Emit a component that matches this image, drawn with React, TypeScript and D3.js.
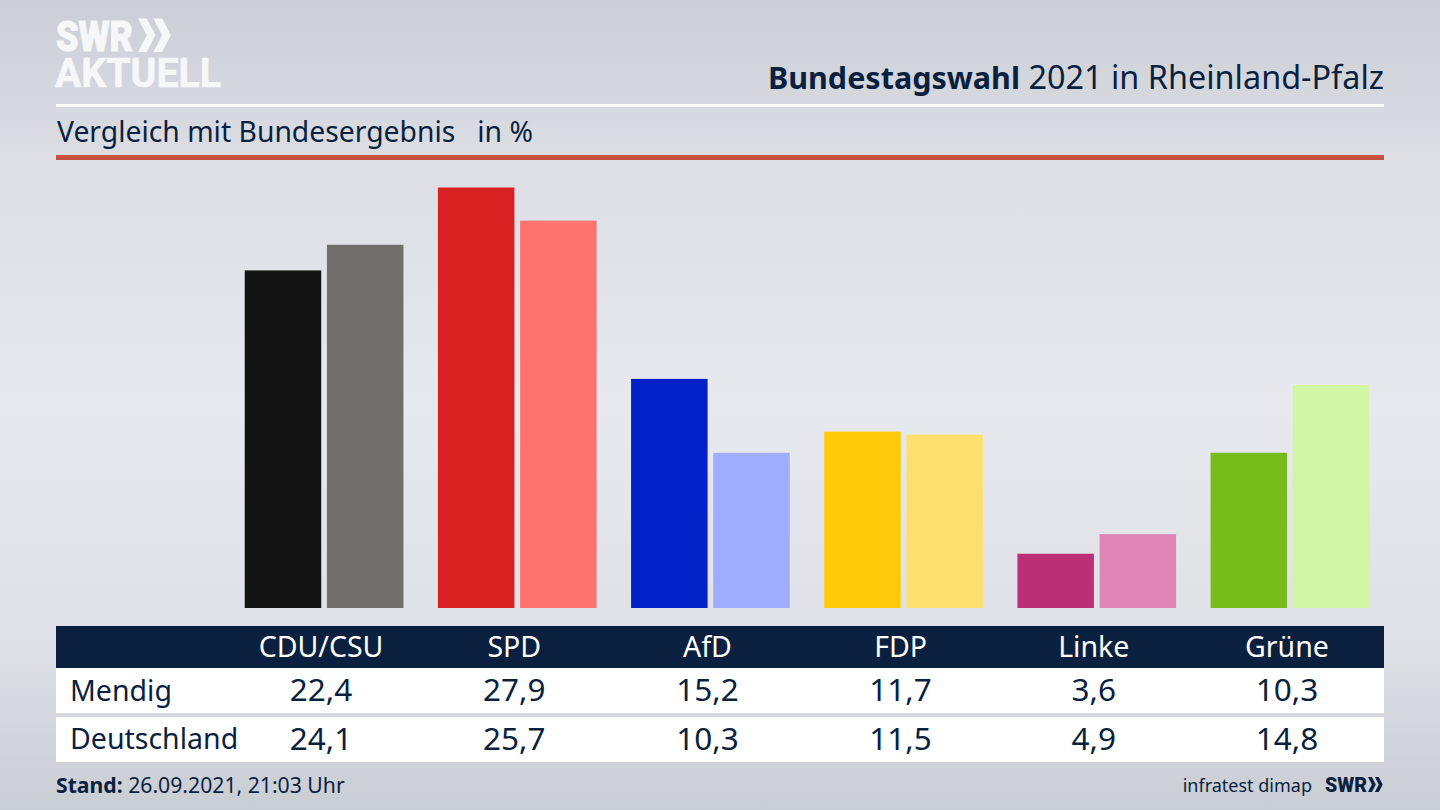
import React from "react";
import * as d3 from "d3";

const parties = ["CDU/CSU", "SPD", "AfD", "FDP", "Linke", "Grüne"];
const regionLabel = "Mendig";
const nationLabel = "Deutschland";
const regionValues = [22.4, 27.9, 15.2, 11.7, 3.6, 10.3];
const nationValues = [24.1, 25.7, 10.3, 11.5, 4.9, 14.8];
const regionColors = ["#141414", "#d7201f", "#0021c7", "#fdcb0a", "#bb2f77", "#78bc1c"];
const nationColors = ["#706f6c", "#fe7370", "#9fadff", "#fddf70", "#e086b6", "#d2f6a6"];

const W = 1440, H = 810;
const navy = "#0b1f3f";
const font = "'Noto Sans', sans-serif";
const fmt = (v: number) => v.toFixed(1).replace(".", ",");

function Chevrons({ x, y, h }: { x: number; y: number; h: number }) {
  const w = h * 0.26, t = h * 0.26;
  const one = (x0: number) =>
    d3.line()([[x0, y], [x0 + t, y], [x0 + t + w, y + h / 2], [x0 + t, y + h], [x0, y + h], [x0 + w, y + h / 2]]) + "Z";
  return <path d={one(x) + one(x + h * 0.46)} fill="currentColor" />;
}

export default function App() {
  const x = d3.scaleBand<string>().domain(parties).range([224.5, 1383.5]).paddingInner(0).paddingOuter(0);
  const y = d3.scaleLinear().domain([0, 27.9]).range([608, 187.5]);
  const barW = 76.5, gap = 5.7, barShift = 3;
  const mid = (p: string) => x(p)! + x.bandwidth() / 2;
  return (
    <svg width={W} height={H} viewBox={`0 0 ${W} ${H}`} style={{ position: "fixed", left: 0, top: 0, display: "block" }} fontFamily={font}>
      <defs>
        <linearGradient id="bg" x1="0" y1="0" x2="0" y2="1">
          <stop offset="0" stopColor="#cbced5" />
          <stop offset="0.2" stopColor="#dcdee4" />
          <stop offset="0.5" stopColor="#e8e9ee" />
          <stop offset="0.78" stopColor="#dfe1e6" />
          <stop offset="1" stopColor="#c9cdd4" />
        </linearGradient>
      </defs>
      <rect width={W} height={H} fill="url(#bg)" />

      <g fill="#f6f7f8" color="#f6f7f8" stroke="#f6f7f8">
        <text x={56} y={51} fontSize={42} fontFamily="Roboto, sans-serif" fontWeight={900} strokeWidth={1} textLength={77} lengthAdjust="spacingAndGlyphs">SWR</text>
        <g stroke="none"><Chevrons x={138} y={18.5} h={33.5} /></g>
        <text x={55} y={87} fontSize={41} fontFamily="Roboto, sans-serif" fontWeight={700} strokeWidth={0.6} textLength={166} lengthAdjust="spacingAndGlyphs">AKTUELL</text>
      </g>

      <text x={1384} y={89} textAnchor="end" fill={navy} fontSize={32.4}>
        <tspan fontWeight={700} fontSize={30.5}>Bundestagswahl</tspan> 2021 in Rheinland-Pfalz
      </text>
      <rect x={56} y={104} width={1328} height={3} fill="#fbfbfc" />
      <text x={57} y={142} fontSize={28.3} fill={navy} xmlSpace="preserve">Vergleich mit Bundesergebnis   in %</text>
      <rect x={56} y={155} width={1328} height={5} fill="#c9503f" />

      {parties.map((p, i) => (
        <g key={p}>
          <rect x={mid(p) + barShift - gap / 2 - barW} y={y(regionValues[i])} width={barW} height={y(0) - y(regionValues[i])} fill={regionColors[i]} />
          <rect x={mid(p) + barShift + gap / 2} y={y(nationValues[i])} width={barW} height={y(0) - y(nationValues[i])} fill={nationColors[i]} />
        </g>
      ))}

      <rect x={56} y={626} width={1328} height={42} fill={navy} />
      <rect x={56} y={668} width={1328} height={45} fill="#fff" />
      <rect x={56} y={717} width={1328} height={45} fill="#fff" />
      <text x={70} y={701} fontSize={28.5} fill={navy}>{regionLabel}</text>
      <text x={70} y={749} fontSize={28.5} fill={navy}>{nationLabel}</text>
      {parties.map((p, i) => (
        <g key={p} textAnchor="middle" fontSize={31.5}>
          <text x={mid(p)} y={657} fill="#fff" fontSize={28.5}>{p}</text>
          <text x={mid(p)} y={701} fill={navy}>{fmt(regionValues[i])}</text>
          <text x={mid(p)} y={750} fill={navy}>{fmt(nationValues[i])}</text>
        </g>
      ))}

      <text x={56} y={793} fontSize={21.2} fill={navy}>
        <tspan fontWeight={700}>Stand:</tspan> 26.09.2021, 21:03 Uhr
      </text>
      <text x={1312} y={792} fontSize={18} textAnchor="end" fill={navy}>infratest dimap</text>
      <g color={navy} fill={navy}>
        <text x={1325} y={792} fontSize={21} fontFamily="Roboto, sans-serif" fontWeight={900} textLength={42} lengthAdjust="spacingAndGlyphs">SWR</text>
        <Chevrons x={1368} y={777} h={15} />
      </g>
    </svg>
  );
}
